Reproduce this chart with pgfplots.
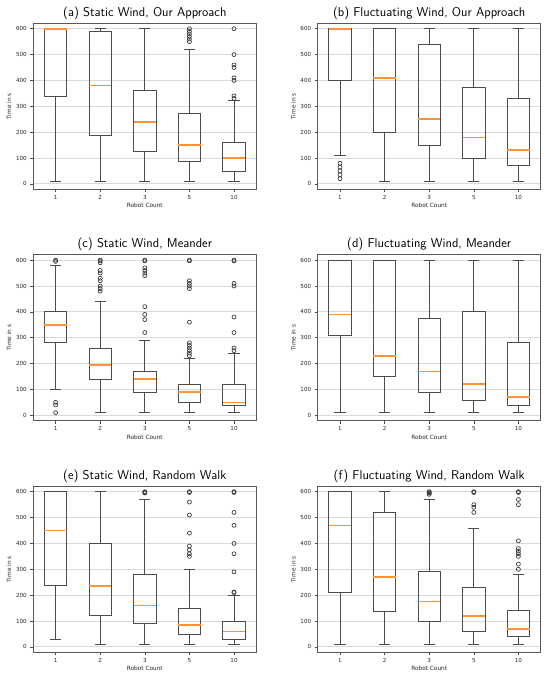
\documentclass[border=0pt]{standalone}
\usepackage{pgfplots}
\pgfplotsset{compat=1.18}
\usepgfplotslibrary{statistics}
\usepackage{fontspec}
\newfontfamily\djv{DejaVu Sans}
\definecolor{mplorange}{HTML}{FF7F0E}
\pgfplotsset{
  panel/.style={
    scale only axis, width=223pt, height=166pt,
    anchor=south west,
    xmin=0.5, xmax=5.5, ymin=-21, ymax=621,
    xtick={1,2,3,4,5}, xticklabels={1,2,3,5,10},
    ytick={0,100,...,600},
    ymajorgrids, grid style={draw=black!15, line width=0.8pt},
    tick align=outside, tick pos=left, major tick length=3pt,
    every tick/.style={draw=black!70, line width=0.6pt},
    axis line style={draw=black!65, line width=0.8pt},
    /pgf/number format/assume math mode=true,
    ticklabel style={font=\djv\fontsize{5.6}{6.5}\selectfont, text=black!85},
    label style={font=\djv\fontsize{5.8}{7}\selectfont, text=black!85},
    xlabel={Robot Count}, ylabel={Time in s},
    xticklabel style={yshift=0.5pt},
    xlabel style={yshift=3pt},
    ylabel style={yshift=-2pt},
    title style={font=\sffamily\fontsize{12.8}{14}\selectfont, yshift=-6pt},
    boxplot/draw direction=y,
    boxplot/box extend=0.5,
    boxplot/whisker extend=0.25,
    boxplot/every median/.style={draw=mplorange!85, line width=1.6pt, solid},
  },
  bp/.style={draw=black!70, line width=0.75pt, mark=o, mark size=2pt,
    mark options={draw=black!80, fill=none, line width=0.65pt, solid}},
}
\begin{document}
\begin{tikzpicture}
\path[use as bounding box] (0,0) rectangle (550pt,677pt);

% (a)
\begin{axis}[panel, at={(33.3pt,487.7pt)}, title={(a) Static Wind, Our Approach}]
\addplot[bp, boxplot prepared={draw position=1, lower whisker=10, lower quartile=340, median=600, upper quartile=600, upper whisker=600}] coordinates {};
\addplot[bp, boxplot prepared={draw position=2, lower whisker=10, lower quartile=187, median=380, upper quartile=590, upper whisker=600}] coordinates {};
\addplot[bp, boxplot prepared={draw position=3, lower whisker=10, lower quartile=126, median=240, upper quartile=362, upper whisker=600}] coordinates {};
\addplot[bp, boxplot prepared={draw position=4, lower whisker=10, lower quartile=86, median=150, upper quartile=271, upper whisker=520}] table[row sep=\\, y index=0] {y\\ 550\\ 560\\ 570\\ 580\\ 590\\ 600\\};
\addplot[bp, boxplot prepared={draw position=5, lower whisker=10, lower quartile=50, median=100, upper quartile=160, upper whisker=322}] table[row sep=\\, y index=0] {y\\ 330\\ 340\\ 400\\ 410\\ 450\\ 460\\ 500\\ 600\\};
\end{axis}

% (b)
\begin{axis}[panel, at={(317.7pt,487.7pt)}, title={(b) Fluctuating Wind, Our Approach}]
\addplot[bp, boxplot prepared={draw position=1, lower whisker=110, lower quartile=400, median=600, upper quartile=600, upper whisker=600}] table[row sep=\\, y index=0] {y\\ 20\\ 35\\ 50\\ 65\\ 80\\};
\addplot[bp, boxplot prepared={draw position=2, lower whisker=10, lower quartile=200, median=410, upper quartile=600, upper whisker=600}] coordinates {};
\addplot[bp, boxplot prepared={draw position=3, lower whisker=10, lower quartile=150, median=250, upper quartile=538, upper whisker=600}] coordinates {};
\addplot[bp, boxplot prepared={draw position=4, lower whisker=10, lower quartile=100, median=180, upper quartile=373, upper whisker=600}] coordinates {};
\addplot[bp, boxplot prepared={draw position=5, lower whisker=10, lower quartile=70, median=130, upper quartile=330, upper whisker=600}] coordinates {};
\end{axis}

% (c)
\begin{axis}[panel, at={(33.3pt,256.3pt)}, title={(c) Static Wind, Meander}]
\addplot[bp, boxplot prepared={draw position=1, lower whisker=100, lower quartile=280, median=350, upper quartile=400, upper whisker=580}] table[row sep=\\, y index=0] {y\\ 10\\ 40\\ 50\\ 595\\ 600\\};
\addplot[bp, boxplot prepared={draw position=2, lower whisker=10, lower quartile=140, median=195, upper quartile=260, upper whisker=440}] table[row sep=\\, y index=0] {y\\ 480\\ 490\\ 500\\ 520\\ 530\\ 550\\ 560\\ 590\\ 597\\ 600\\};
\addplot[bp, boxplot prepared={draw position=3, lower whisker=10, lower quartile=90, median=140, upper quartile=170, upper whisker=290}] table[row sep=\\, y index=0] {y\\ 320\\ 370\\ 390\\ 420\\ 540\\ 550\\ 560\\ 570\\ 597\\ 600\\};
\addplot[bp, boxplot prepared={draw position=4, lower whisker=10, lower quartile=50, median=90, upper quartile=120, upper whisker=220}] table[row sep=\\, y index=0] {y\\ 230\\ 240\\ 250\\ 260\\ 270\\ 280\\ 360\\ 490\\ 500\\ 510\\ 520\\ 597\\ 600\\};
\addplot[bp, boxplot prepared={draw position=5, lower whisker=10, lower quartile=40, median=50, upper quartile=120, upper whisker=240}] table[row sep=\\, y index=0] {y\\ 250\\ 260\\ 320\\ 380\\ 500\\ 510\\ 597\\ 600\\};
\end{axis}

% (d)
\begin{axis}[panel, at={(317.7pt,256.3pt)}, title={(d) Fluctuating Wind, Meander}]
\addplot[bp, boxplot prepared={draw position=1, lower whisker=10, lower quartile=310, median=390, upper quartile=600, upper whisker=600}] coordinates {};
\addplot[bp, boxplot prepared={draw position=2, lower whisker=10, lower quartile=150, median=230, upper quartile=600, upper whisker=600}] coordinates {};
\addplot[bp, boxplot prepared={draw position=3, lower whisker=10, lower quartile=90, median=170, upper quartile=373, upper whisker=600}] coordinates {};
\addplot[bp, boxplot prepared={draw position=4, lower whisker=10, lower quartile=58, median=120, upper quartile=400, upper whisker=600}] coordinates {};
\addplot[bp, boxplot prepared={draw position=5, lower whisker=10, lower quartile=40, median=70, upper quartile=280, upper whisker=600}] coordinates {};
\end{axis}

% (e)
\begin{axis}[panel, at={(33.3pt,24.7pt)}, title={(e) Static Wind, Random Walk}]
\addplot[bp, boxplot prepared={draw position=1, lower whisker=30, lower quartile=237, median=450, upper quartile=600, upper whisker=600}] coordinates {};
\addplot[bp, boxplot prepared={draw position=2, lower whisker=10, lower quartile=120, median=236, upper quartile=400, upper whisker=600}] coordinates {};
\addplot[bp, boxplot prepared={draw position=3, lower whisker=10, lower quartile=90, median=160, upper quartile=282, upper whisker=570}] table[row sep=\\, y index=0] {y\\ 595\\ 597\\ 600\\};
\addplot[bp, boxplot prepared={draw position=4, lower whisker=10, lower quartile=50, median=85, upper quartile=150, upper whisker=300}] table[row sep=\\, y index=0] {y\\ 350\\ 360\\ 375\\ 390\\ 440\\ 510\\ 560\\ 597\\ 600\\};
\addplot[bp, boxplot prepared={draw position=5, lower whisker=10, lower quartile=30, median=60, upper quartile=100, upper whisker=200}] table[row sep=\\, y index=0] {y\\ 210\\ 212\\ 290\\ 360\\ 400\\ 470\\ 520\\ 597\\ 600\\};
\end{axis}

% (f)
\begin{axis}[panel, at={(317.7pt,24.7pt)}, title={(f) Fluctuating Wind, Random Walk}]
\addplot[bp, boxplot prepared={draw position=1, lower whisker=10, lower quartile=210, median=470, upper quartile=600, upper whisker=600}] coordinates {};
\addplot[bp, boxplot prepared={draw position=2, lower whisker=10, lower quartile=137, median=270, upper quartile=520, upper whisker=600}] coordinates {};
\addplot[bp, boxplot prepared={draw position=3, lower whisker=10, lower quartile=100, median=175, upper quartile=292, upper whisker=570}] table[row sep=\\, y index=0] {y\\ 590\\ 595\\ 597\\ 600\\};
\addplot[bp, boxplot prepared={draw position=4, lower whisker=10, lower quartile=60, median=120, upper quartile=230, upper whisker=460}] table[row sep=\\, y index=0] {y\\ 520\\ 540\\ 550\\ 597\\ 600\\};
\addplot[bp, boxplot prepared={draw position=5, lower whisker=10, lower quartile=40, median=70, upper quartile=142, upper whisker=280}] table[row sep=\\, y index=0] {y\\ 300\\ 320\\ 350\\ 360\\ 370\\ 380\\ 410\\ 550\\ 570\\ 597\\ 600\\};
\end{axis}
\end{tikzpicture}
\end{document}
